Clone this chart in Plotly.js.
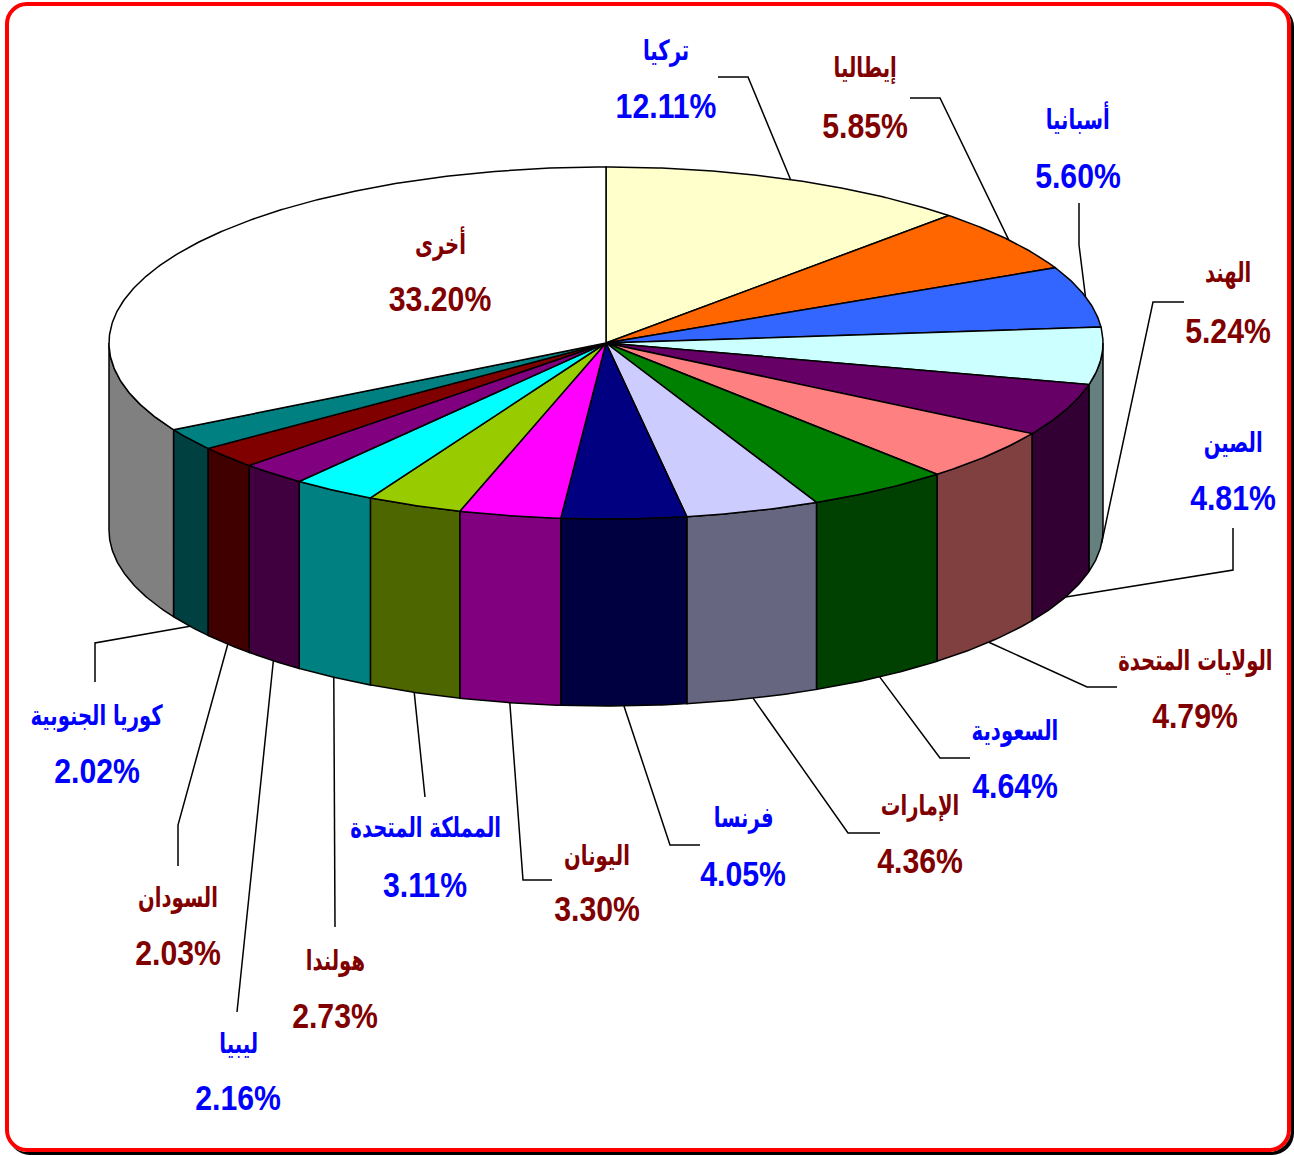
<!DOCTYPE html>
<html><head><meta charset="utf-8">
<script src="https://cdn.plot.ly/plotly-3.0.1.min.js"></script>
<style>
html,body{margin:0;padding:0;background:#fff;overflow:hidden}
#chart{position:absolute;left:0;top:0;width:1294px;height:1156px}
#frame{position:absolute;left:5px;top:2px;width:1278px;height:1142px;border:4px solid #ff0000;border-radius:22px;box-shadow:3px 3px 0 #000;pointer-events:none}
</style></head><body>
<div id="chart"></div><div id="frame"></div>
<script>
// ---- data ----
const countries = ["تركيا","إيطاليا","أسبانيا","الهند","الصين","الولايات المتحدة","السعودية","الإمارات","فرنسا","اليونان","المملكة المتحدة","هولندا","ليبيا","السودان","كوريا الجنوبية","أخرى"];
const shares = [12.11,5.85,5.60,5.24,4.81,4.79,4.64,4.36,4.05,3.30,3.11,2.73,2.16,2.03,2.02,33.20];
const pctLabels = ["12.11%","5.85%","5.60%","5.24%","4.81%","4.79%","4.64%","4.36%","4.05%","3.30%","3.11%","2.73%","2.16%","2.03%","2.02%","33.20%"];

// ---- styles ----
const topColors  = ["#FFFFCC","#FF6600","#3366FF","#CCFFFF","#660066","#FF8080","#008000","#CCCCFF","#000080","#FF00FF","#99CC00","#00FFFF","#800080","#800000","#008080","#FFFFFF"];
const sideColors = ["#808066","#803300","#1A3380","#668080","#330033","#804040","#004000","#666680","#000040","#800080","#4D6600","#008080","#400040","#400000","#004040","#808080"];
const BLUE="#0000FF", RED="#800000";
const textColors = [BLUE,RED,BLUE,RED,BLUE,RED,BLUE,RED,BLUE,RED,BLUE,RED,BLUE,RED,BLUE,RED];
// label layout: [x, nameY, pctY, leader path points (elbows/end)]
const labelPos = [
  [666, 50,105, [[748,77],[718,77]]],
  [865, 68,125, [[940,98],[910,98]]],
  [1078,118,175,[[1079,245],[1079,203]]],
  [1228,272,330,[[1153,302],[1184,302]]],
  [1233,442,497,[[1233,570],[1233,528]]],
  [1195,660,715,[[1087,687],[1117,687]]],
  [1015,730,785,[[940,758],[970,758]]],
  [920, 805,860,[[848,833],[880,833]]],
  [743, 817,873,[[670,845],[700,845]]],
  [597, 855,908,[[523,880],[552,880]]],
  [425, 827,884,[[425,797]]],
  [335, 960,1015,[[335,927]]],
  [238,1043,1097,[[237,1012]]],
  [178, 897,952,[[178,825],[178,866]]],
  [97,  715,770,[[95,643],[95,682]]],
  [440, 243,298,null]
];

// ---- geometry ----
const CX=606, CY=343, RX=497, RY=176, DEPTH=187;
function pt(deg, dy){const r=deg*Math.PI/180; return [CX+RX*Math.sin(r), CY-RY*Math.cos(r)+(dy||0)];}
function arc(a,b,dy){const out=[];const n=Math.max(2,Math.ceil(Math.abs(b-a)/0.5));for(let i=0;i<=n;i++){out.push(pt(a+(b-a)*i/n,dy));}return out;}

const total = shares.reduce((s,v)=>s+v,0);
const starts=[], ends=[];
let acc=0;
shares.forEach(v=>{starts.push(acc/total*360); acc+=v; ends.push(acc/total*360);});

const traces=[];
// sides (front half only)
shares.forEach((v,i)=>{
  const a=Math.max(starts[i],90), b=Math.min(ends[i],270);
  if(b<=a) return;
  const poly=arc(a,b,0).concat(arc(b,a,DEPTH));
  poly.push(poly[0]);
  traces.push({type:'scatter',mode:'lines',x:poly.map(p=>p[0]),y:poly.map(p=>p[1]),fill:'toself',fillcolor:sideColors[i],line:{color:'#000',width:1.5},hoverinfo:'skip'});
});
// top faces
shares.forEach((v,i)=>{
  const poly=[[CX,CY]].concat(arc(starts[i],ends[i],0));
  poly.push([CX,CY]);
  traces.push({type:'scatter',mode:'lines',x:poly.map(p=>p[0]),y:poly.map(p=>p[1]),fill:'toself',fillcolor:topColors[i],line:{color:'#000',width:1.5},hoverinfo:'skip'});
});
// leader lines + labels
const annotations=[];
shares.forEach((v,i)=>{
  const lp=labelPos[i];
  if(lp[3]){
    const mid=(starts[i]+ends[i])/2;
    const front = mid>90 && mid<270;
    const s=pt(mid, front?DEPTH:0);
    const pts=[s].concat(lp[3]);
    traces.push({type:'scatter',mode:'lines',x:pts.map(p=>p[0]),y:pts.map(p=>p[1]),line:{color:'#000',width:1.5},hoverinfo:'skip'});
  }
  annotations.push({x:lp[0],y:lp[1],xref:'x',yref:'y',text:'<b>'+countries[i]+'</b>',showarrow:false,
    font:{family:"'DejaVu Sans', Arial, sans-serif",size:28,color:textColors[i]},xanchor:'center',yanchor:'middle'});
  annotations.push({x:lp[0],y:lp[2],xref:'x',yref:'y',text:'<b>'+pctLabels[i]+'</b>',showarrow:false,
    font:{family:"'Liberation Sans',Arial,sans-serif",size:36,color:textColors[i]},xanchor:'center',yanchor:'middle'});
});

const layout={width:1294,height:1156,margin:{l:0,r:0,t:0,b:0},showlegend:false,
  paper_bgcolor:'#fff',plot_bgcolor:'#fff',
  xaxis:{range:[0,1294],visible:false,fixedrange:true},
  yaxis:{range:[1156,0],visible:false,fixedrange:true},
  annotations:annotations};
Plotly.newPlot('chart',traces,layout,{displayModeBar:false,staticPlot:true}).then(()=>{
  // condense label text horizontally (reference uses a narrow bold face)
  document.querySelectorAll('#chart g.annotation').forEach(g=>{
    const idx=+g.getAttribute('data-index');
    const t=g.querySelector('text.annotation-text');
    if(!t) return;
    const sx = (idx%2===0)?0.7:0.84;
    const bb=t.getBBox();
    const cx=bb.x+bb.width/2;
    t.setAttribute('transform','translate('+cx+',0) scale('+sx+',1) translate('+(-cx)+',0)');
  });
});
</script></body></html>
